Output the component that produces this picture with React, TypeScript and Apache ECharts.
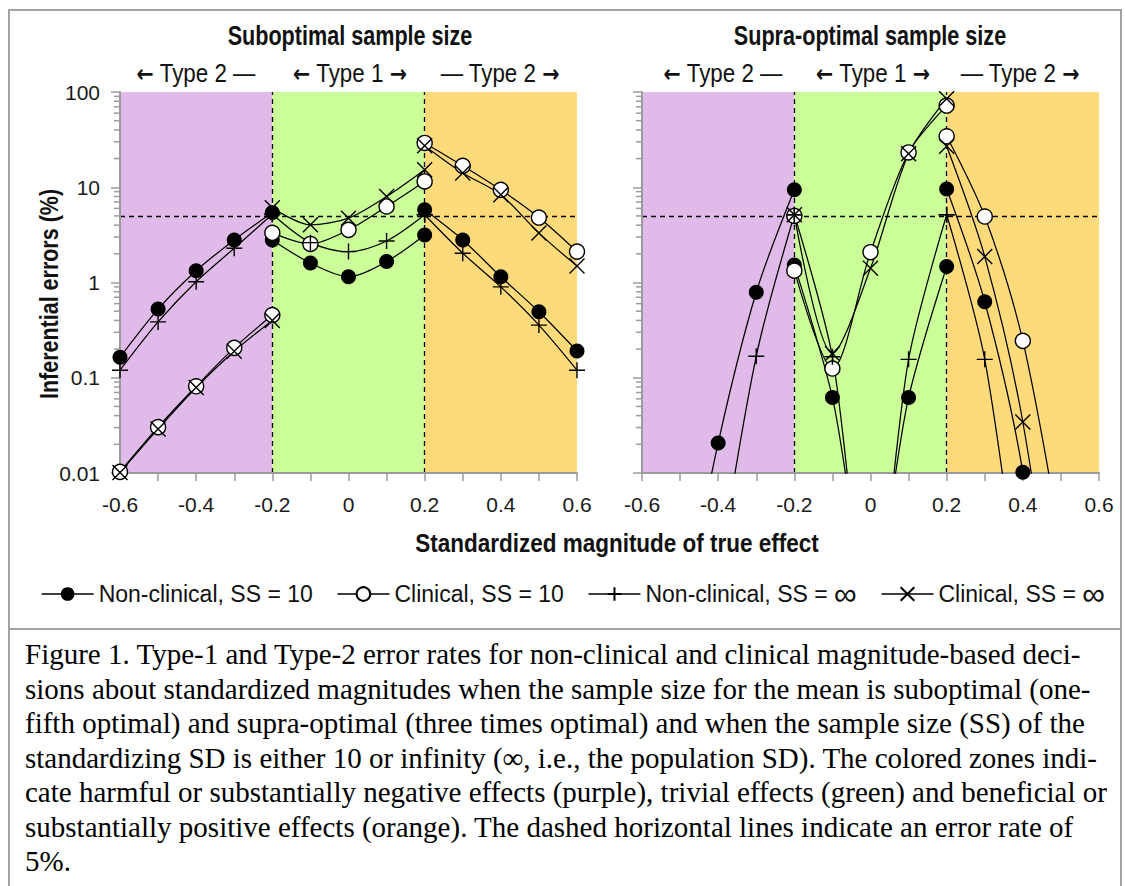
import React, { useEffect, useRef } from 'react';
import * as echarts from 'echarts';

// ---------- data ----------
const xLeft = [-0.6, -0.5, -0.4, -0.3, -0.2];
const xMid = [-0.2, -0.1, 0, 0.1, 0.2];
const xRight = [0.2, 0.3, 0.4, 0.5, 0.6];

const seriesNames = [
  'Non-clinical, SS = 10',
  'Clinical, SS = 10',
  'Non-clinical, SS = ∞',
  'Clinical, SS = ∞',
];

// Suboptimal sample size (left panel), inferential errors (%)
const subNC10Left = [0.164, 0.526, 1.33, 2.8, 5.43];
const subNC10Mid = [2.8, 1.6, 1.15, 1.66, 3.16];
const subNC10Right = [5.8, 2.8, 1.15, 0.493, 0.191];
const subC10Left = [0.0103, 0.0303, 0.0814, 0.206, 0.455];
const subC10Mid = [3.32, 2.54, 3.57, 6.28, 11.5];
const subC10Right = [29.2, 16.8, 9.4, 4.81, 2.11];
const subNCInfLeft = [0.12, 0.386, 1.02, 2.29, 5.2];
const subNCInfMid = [5.2, 2.62, 2.11, 2.73, 5.14];
const subNCInfRight = [5.14, 2.03, 0.9, 0.357, 0.12];
const subCInfLeft = [0.0101, 0.029, 0.079, 0.19, 0.4];
const subCInfMid = [6.08, 4.03, 4.74, 8.0, 15.3];
const subCInfRight = [27.3, 14.1, 8.34, 3.3, 1.49];

// Supra-optimal sample size (right panel); null = not plotted
const supNC10Left = [null, 0.0002, 0.0206, 0.789, 9.4];
const supNC10Mid = [1.53, 0.062, 0.0005, 0.062, 1.47];
const supNC10Right = [9.57, 0.628, 0.0102, 0.00001, null];
const supC10Left = [null, null, null, null, 5.0];
const supC10Mid = [1.33, 0.125, 2.08, 23.2, 72];
const supC10Right = [34.3, 4.93, 0.244, 0.0018, null];
const supNCInfLeft = [null, null, 0.0008, 0.168, 5.14];
const supNCInfMid = [5.14, 0.166, 0.0002, 0.156, 5.14];
const supNCInfRight = [5.14, 0.156, 0.00023, null, null];
const supCInfLeft = [null, null, null, null, null];
const supCInfMid = [5.14, 0.18, 1.41, 22.5, 85];
const supCInfRight = [26.9, 1.87, 0.0343, 0.00006, null];

// zones and reference levels
const zoneStarts = [-0.6, -0.2, 0.2];
const zoneEnds = [-0.2, 0.2, 0.6];
const zoneColors = ['#E0BAE8', '#CBFD98', '#FEDB7A'];
const zoneBoundaries = [-0.2, 0.2];
const errorRateLine = 5;

const yMinorTicks = [
  0.02, 0.03, 0.04, 0.05, 0.06, 0.07, 0.08, 0.09,
  0.2, 0.3, 0.4, 0.5, 0.6, 0.7, 0.8, 0.9,
  2, 3, 4, 5, 6, 7, 8, 9,
  20, 30, 40, 50, 60, 70, 80, 90,
];

const panelTitles = ['Suboptimal sample size', 'Supra-optimal sample size'];
const typeLabels = ['{arr|←} Type 2 —', '{arr|←} Type 1 {arr|→}', '— Type 2 {arr|→}'];

const captionLines = [
  'Figure 1. Type-1 and Type-2 error rates for non-clinical and clinical magnitude-based deci-',
  'sions about standardized magnitudes when the sample size for the mean is suboptimal (one-',
  'fifth optimal) and supra-optimal (three times optimal) and when the sample size (SS) of the',
  'standardizing SD is either 10 or infinity (∞, i.e., the population SD). The colored zones indi-',
  'cate harmful or substantially negative effects (purple), trivial effects (green) and beneficial or',
  'substantially positive effects (orange). The dashed horizontal lines indicate an error rate of',
  '5%.',
];

// ---------- styling ----------
const SANS = "'Liberation Sans', Arial, sans-serif";
const SERIF = "'Liberation Serif', 'Times New Roman', serif";
const AXIS_GRAY = '#9b9b9b';

const PLUS = 'path://M8,0 L8,16 M0,8 L16,8';
const CROSS = 'path://M0,0 L16,16 M16,0 L0,16';

const symbolStyles = [
  { symbol: 'circle', symbolSize: 15, itemStyle: { color: '#000', borderColor: '#000', borderWidth: 0 } },
  { symbol: 'circle', symbolSize: 15, itemStyle: { color: '#fff', borderColor: '#000', borderWidth: 1.4 } },
  { symbol: PLUS, symbolSize: 16, itemStyle: { color: '#000', borderColor: '#000', borderWidth: 1.4 } },
  { symbol: CROSS, symbolSize: 15, itemStyle: { color: '#000', borderColor: '#000', borderWidth: 1.4 } },
];

function sectionPairs(xs: number[], ys: (number | null)[]) {
  const out: any[] = [];
  xs.forEach((x, i) => {
    const y = ys[i];
    if (y !== null && y !== undefined) out.push([x, y]);
  });
  return out;
}

function joinSections(sections: [number[], (number | null)[]][]) {
  const out: any[] = [];
  sections.forEach(([xs, ys], k) => {
    if (k > 0) out.push(['-', '-']);
    out.push(...sectionPairs(xs, ys));
  });
  return out;
}

const panelData = [
  [
    joinSections([[xLeft, subNC10Left], [xMid, subNC10Mid], [xRight, subNC10Right]]),
    joinSections([[xLeft, subC10Left], [xMid, subC10Mid], [xRight, subC10Right]]),
    joinSections([[xLeft, subNCInfLeft], [xMid, subNCInfMid], [xRight, subNCInfRight]]),
    joinSections([[xLeft, subCInfLeft], [xMid, subCInfMid], [xRight, subCInfRight]]),
  ],
  [
    joinSections([[xLeft, supNC10Left], [xMid, supNC10Mid], [xRight, supNC10Right]]),
    joinSections([[xLeft, supC10Left], [xMid, supC10Mid], [xRight, supC10Right]]),
    joinSections([[xLeft, supNCInfLeft], [xMid, supNCInfMid], [xRight, supNCInfRight]]),
    joinSections([[xLeft, supCInfLeft], [xMid, supCInfMid], [xRight, supCInfRight]]),
  ],
];

function fmtX(v: number) {
  const r = Math.round(v * 10) / 10;
  return Math.abs(r) < 1e-9 ? '0' : String(r);
}
function fmtY(v: number) {
  return String(Number(v.toPrecision(3)));
}

function buildOption() {
  const grids = [
    { left: 120, top: 92, width: 457, height: 381 },
    { left: 642, top: 92, width: 457, height: 381 },
  ];
  const xAxes = grids.map((_, i) => ({
    type: 'value',
    gridIndex: i,
    min: -0.6,
    max: 0.6,
    interval: 0.2,
    z: 2,
    axisLine: { show: true, onZero: false, lineStyle: { color: AXIS_GRAY, width: 2 } },
    axisTick: { show: true, length: 8, lineStyle: { color: AXIS_GRAY, width: 1.5 } },
    minorTick: { show: true, splitNumber: 2, length: 8, lineStyle: { color: AXIS_GRAY, width: 1.5 } },
    splitLine: { show: false },
    minorSplitLine: { show: false },
    axisLabel: { fontFamily: SANS, fontSize: 21, color: '#1a1a1a', margin: 21, formatter: fmtX },
  }));
  const yAxes = grids.map((_, i) => ({
    type: 'log',
    logBase: 10,
    gridIndex: i,
    min: 0.01,
    max: 100,
    z: 2,
    axisLine: { show: true, onZero: false, lineStyle: { color: AXIS_GRAY, width: 2 } },
    axisTick: { show: true, length: 9, lineStyle: { color: AXIS_GRAY, width: 1.5 } },
    splitLine: { show: false },
    axisLabel: { show: i === 0, fontFamily: SANS, fontSize: 21, color: '#1a1a1a', margin: 20, formatter: fmtY },
  }));

  const series: any[] = [];
  grids.forEach((_, p) => {
    series.push({
      type: 'line',
      name: 'zones',
      xAxisIndex: p,
      yAxisIndex: p,
      data: [],
      silent: true,
      z: 0,
      markArea: {
        silent: true,
        z: 0,
        data: zoneStarts.map((s, k) => [
          { xAxis: s, itemStyle: { color: zoneColors[k], opacity: 1 } },
          { xAxis: zoneEnds[k] },
        ]),
      },
      markLine: {
        silent: true,
        z: 1,
        symbol: ['none', 'none'],
        label: { show: false },
        lineStyle: { color: '#000', type: [5, 4], width: 1.3 },
        data: [...zoneBoundaries.map((b) => ({ xAxis: b })), { yAxis: errorRateLine }],
      },
    });
    series.push({
      type: 'custom',
      name: 'minorTicks',
      xAxisIndex: p,
      yAxisIndex: p,
      silent: true,
      z: 2,
      clip: false,
      data: yMinorTicks.map((v) => [-0.6, v]),
      renderItem: (params: any, api: any) => {
        const pt = api.coord([api.value(0), api.value(1)]);
        return {
          type: 'line',
          shape: { x1: pt[0] - 6, y1: pt[1], x2: pt[0], y2: pt[1] },
          style: { stroke: AXIS_GRAY, lineWidth: 1.5 },
        };
      },
    });
    panelData[p].forEach((data, k) => {
      series.push({
        type: 'line',
        name: seriesNames[k],
        xAxisIndex: p,
        yAxisIndex: p,
        z: 3,
        smooth: 0.3,
        clip: true,
        connectNulls: false,
        showSymbol: true,
        data,
        symbol: symbolStyles[k].symbol,
        symbolSize: symbolStyles[k].symbolSize,
        itemStyle: symbolStyles[k].itemStyle,
        lineStyle: { color: '#000', width: 1.25 },
        emphasis: { disabled: true },
      });
    });
  });

  const typeCentersX = [
    [196, 350, 500],
    [723, 873, 1020],
  ];

  const graphic: any[] = [
    {
      type: 'rect',
      silent: true,
      z: 100,
      shape: { x: 9, y: 10, width: 1112, height: 890 },
      style: { fill: 'none', stroke: '#a3a3a3', lineWidth: 2 },
    },
    {
      type: 'line',
      silent: true,
      z: 100,
      shape: { x1: 9, y1: 629, x2: 1121, y2: 629 },
      style: { stroke: '#a3a3a3', lineWidth: 2 },
    },
  ];
  panelTitles.forEach((t, p) => {
    graphic.push({
      type: 'text',
      x: p === 0 ? 350 : 870,
      y: 36,
      z: 100,
      scaleX: 0.8,
      style: { text: t, fontFamily: SANS, fontWeight: 'bold', fontSize: 27, fill: '#111', align: 'center', verticalAlign: 'middle' },
    });
    typeLabels.forEach((lbl, k) => {
      graphic.push({
        type: 'text',
        x: typeCentersX[p][k],
        y: 73,
        z: 100,
        scaleX: 0.86,
        style: {
          text: lbl,
          fontFamily: SANS,
          fontSize: 26,
          fill: '#111',
          align: 'center',
          verticalAlign: 'middle',
          rich: { arr: { fontFamily: "'DejaVu Sans', sans-serif", fontWeight: 'bold', fontSize: 24, fill: '#111' } },
        },
      });
    });
  });
  graphic.push({
    type: 'text',
    x: 49,
    y: 294,
    rotation: Math.PI / 2,
    scaleX: 0.86,
    z: 100,
    style: { text: 'Inferential errors (%)', fontFamily: SANS, fontWeight: 'bold', fontSize: 25, fill: '#111', align: 'center', verticalAlign: 'middle' },
  });
  graphic.push({
    type: 'text',
    x: 617,
    y: 543,
    z: 100,
    scaleX: 0.9,
    style: { text: 'Standardized magnitude of true effect', fontFamily: SANS, fontWeight: 'bold', fontSize: 25, fill: '#111', align: 'center', verticalAlign: 'middle' },
  });
  graphic.push({
    type: 'text',
    x: 25,
    y: 637,
    z: 100,
    style: { text: captionLines.join('\n'), fontFamily: SERIF, fontSize: 29, lineHeight: 34.5, fill: '#000', align: 'left', verticalAlign: 'top' },
  });

  return {
    animation: false,
    backgroundColor: '#fff',
    grid: grids,
    xAxis: xAxes,
    yAxis: yAxes,
    legend: {
      data: seriesNames,
      left: 36,
      top: 573,
      itemWidth: 52,
      itemHeight: 17,
      itemGap: 24,
      selectedMode: false,
      formatter: (name: string) => name.replace('∞', '{inf|∞}'),
      textStyle: {
        fontFamily: SANS,
        fontSize: 23,
        color: '#111',
        rich: { inf: { fontFamily: SANS, fontSize: 32, color: '#111' } },
      },
      lineStyle: { width: 1.3 },
    },
    series,
    graphic,
  };
}

export default function App() {
  const ref = useRef<HTMLDivElement>(null);
  useEffect(() => {
    if (!ref.current) return;
    const chart = echarts.init(ref.current, null, { renderer: 'svg' });
    chart.setOption(buildOption() as any);
    return () => chart.dispose();
  }, []);
  return (
    <div
      ref={ref}
      style={{ position: 'absolute', left: 0, top: 0, width: 1125, height: 886, background: '#fff' }}
    />
  );
}
